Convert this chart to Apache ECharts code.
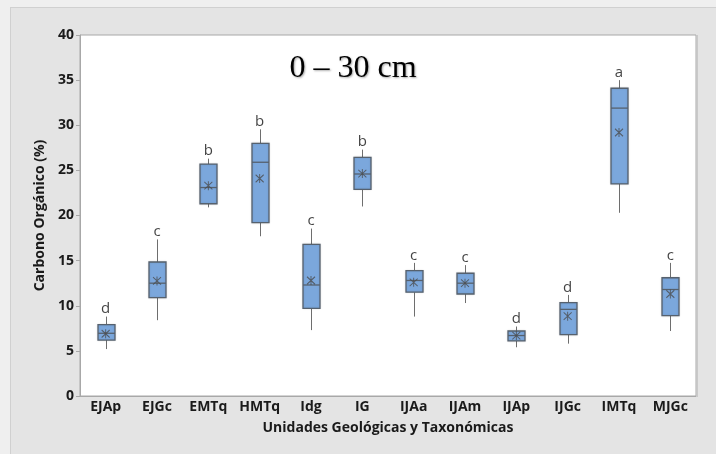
<!DOCTYPE html>
<html>
<head>
<meta charset="utf-8">
<script src="https://cdn.jsdelivr.net/npm/echarts@6/dist/echarts.min.js"></script>
<style>
  html, body { margin: 0; padding: 0; background: #efefef; }
  #frame {
    position: absolute; left: 10px; top: 7px; width: 706px; height: 447px;
    background: #e4e4e4; border-left: 1px solid #d0d0d0; border-top: 1px solid #d0d0d0;
    box-sizing: border-box;
  }
  #chart { position: absolute; left: 0; top: 0; width: 705px; height: 446px; }
</style>
</head>
<body>
<div id="frame"><div id="chart"></div></div>
<script>
// Carbono orgánico (0–30 cm) por unidad geológica / taxonómica
const categories = ['EJAp', 'EJGc', 'EMTq', 'HMTq', 'Idg', 'IG', 'IJAa', 'IJAm', 'IJAp', 'IJGc', 'IMTq', 'MJGc'];
const whiskerLow  = [5.2, 8.4, 20.9, 17.7, 7.3, 21.0, 8.8, 10.3, 5.4, 5.8, 20.3, 7.2];
const quartile1   = [6.2, 10.9, 21.3, 19.2, 9.7, 22.9, 11.5, 11.3, 6.1, 6.8, 23.5, 8.9];
const medians     = [6.95, 12.5, 23.1, 25.9, 12.3, 24.6, 12.8, 12.5, 6.7, 9.6, 31.9, 11.8];
const quartile3   = [7.9, 14.85, 25.7, 28.0, 16.8, 26.45, 13.9, 13.6, 7.2, 10.35, 34.1, 13.1];
const whiskerHigh = [8.8, 17.35, 26.3, 29.55, 18.55, 27.3, 14.75, 14.5, 7.7, 11.2, 35.0, 14.75];
const means       = [6.9, 12.75, 23.3, 24.1, 12.8, 24.65, 12.6, 12.5, 6.7, 8.85, 29.2, 11.3];
const letters     = ['d', 'c', 'b', 'b', 'c', 'b', 'c', 'c', 'd', 'd', 'a', 'c'];
const yTicks = { min: 0, max: 40, interval: 5 };

const boxData = categories.map((c, i) => [i, whiskerLow[i], quartile1[i], medians[i], quartile3[i], whiskerHigh[i]]);

const FONT = '"Open Sans", "DejaVu Sans", sans-serif';
const BOX_FILL = '#7ba7dc';
const BOX_EDGE = '#56616e';
const WHISKER = '#6e6e6e';

function renderBox(params, api) {
  const idx = api.value(0);
  const lo = api.coord([idx, api.value(1)]);
  const q1 = api.coord([idx, api.value(2)]);
  const md = api.coord([idx, api.value(3)]);
  const q3 = api.coord([idx, api.value(4)]);
  const hi = api.coord([idx, api.value(5)]);
  const w = Math.round(api.size([1, 0])[0] * 0.33);
  const x = Math.round(lo[0]) + 0.5;
  return {
    type: 'group',
    children: [
      { type: 'line', shape: { x1: x, y1: hi[1], x2: x, y2: q3[1] }, style: { stroke: WHISKER, lineWidth: 1 } },
      { type: 'line', shape: { x1: x, y1: q1[1], x2: x, y2: lo[1] }, style: { stroke: WHISKER, lineWidth: 1 } },
      { type: 'rect', shape: { x: x - w / 2, y: q3[1], width: w, height: q1[1] - q3[1] },
        style: { fill: BOX_FILL, stroke: BOX_EDGE, lineWidth: 1.3,
                 shadowColor: 'rgba(0,0,0,0.12)', shadowBlur: 2 } },
      { type: 'line', shape: { x1: x - w / 2, y1: md[1], x2: x + w / 2, y2: md[1] }, style: { stroke: BOX_EDGE, lineWidth: 1.3 } }
    ]
  };
}

const chart = echarts.init(document.getElementById('chart'), null, { renderer: 'canvas' });
chart.setOption({
  animation: false,
  backgroundColor: 'transparent',
  grid: {
    left: 69, right: 20, top: 27, bottom: 58,
    show: true, backgroundColor: '#ffffff', borderColor: '#a8a8a8', borderWidth: 1
  },
  graphic: [
    { type: 'text', x: 342, y: 61,
      style: { text: '0 – 30 cm', x: 0, y: 0, font: '32px "Liberation Serif", "Times New Roman", serif',
               fill: '#000', textAlign: 'center', textVerticalAlign: 'middle',
               textShadowColor: 'rgba(0,0,0,0.35)', textShadowBlur: 2, textShadowOffsetX: 1, textShadowOffsetY: 1 } },
    { type: 'line', shape: { x1: 686.5, y1: 27, x2: 686.5, y2: 389 }, style: { stroke: '#c9c9c9', lineWidth: 1 } }
  ],
  xAxis: {
    type: 'category',
    data: categories,
    boundaryGap: true,
    name: 'Unidades Geológicas y Taxonómicas',
    nameLocation: 'middle',
    nameGap: 25,
    nameTextStyle: { fontFamily: FONT, fontSize: 14, fontWeight: 'bold', color: '#1a1a1a' },
    axisLine: { lineStyle: { color: '#a8a8a8' } },
    axisTick: { alignWithLabel: true, length: 4, lineStyle: { color: '#a8a8a8' } },
    axisLabel: { fontFamily: FONT, fontSize: 14, fontWeight: 'bold', color: '#1a1a1a', margin: 4, interval: 0 },
    splitLine: { show: false }
  },
  yAxis: {
    type: 'value',
    min: yTicks.min, max: yTicks.max, interval: yTicks.interval,
    name: 'Carbono Orgánico (%)',
    nameLocation: 'middle',
    nameGap: 32,
    nameRotate: 90,
    nameTextStyle: { fontFamily: FONT, fontSize: 14, fontWeight: 'bold', color: '#1a1a1a' },
    axisLine: { show: true, lineStyle: { color: '#a8a8a8' } },
    axisTick: { show: true, length: 4, lineStyle: { color: '#a8a8a8' } },
    axisLabel: { fontFamily: FONT, fontSize: 14, fontWeight: 'bold', color: '#1a1a1a', margin: 6 },
    splitLine: { show: false }
  },
  series: [
    {
      type: 'custom',
      name: 'box',
      renderItem: renderBox,
      encode: { x: 0, y: [1, 2, 3, 4, 5] },
      data: boxData,
      z: 2
    },
    {
      type: 'scatter',
      name: 'media',
      data: means,
      symbol: 'path://M0,0L10,10M10,0L0,10M5,-1L5,11',
      symbolSize: [8, 9],
      itemStyle: { color: 'transparent', borderColor: '#4a4a4a', borderWidth: 1 },
      z: 3
    },
    {
      type: 'scatter',
      name: 'grupos',
      data: whiskerHigh,
      symbolSize: 0,
      label: {
        show: true, position: 'top', distance: 0,
        formatter: (p) => letters[p.dataIndex],
        fontFamily: FONT, fontSize: 15, color: '#111'
      },
      z: 4
    }
  ]
});
</script>
</body>
</html>
